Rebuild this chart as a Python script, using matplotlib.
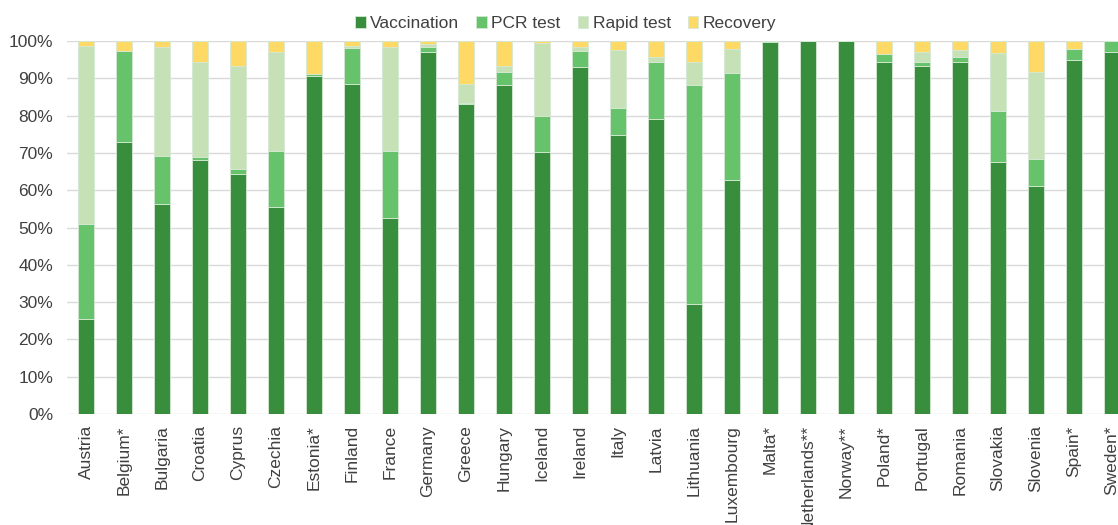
import numpy as np
import matplotlib.pyplot as plt
from matplotlib.ticker import PercentFormatter

plt.rcParams['font.family'] = ['Liberation Sans', 'DejaVu Sans']

countries = ['Austria', 'Belgium*', 'Bulgaria', 'Croatia', 'Cyprus', 'Czechia',
             'Estonia*', 'Finland', 'France', 'Germany', 'Greece', 'Hungary',
             'Iceland', 'Ireland', 'Italy', 'Latvia', 'Lithuania', 'Luxembourg',
             'Malta*', 'Netherlands**', 'Norway**', 'Poland*', 'Portugal',
             'Romania', 'Slovakia', 'Slovenia', 'Spain*', 'Sweden*']

vaccination = [25.6, 73.0, 56.4, 68.2, 64.4, 55.6, 90.6, 88.4, 52.6, 97.1,
               83.2, 88.3, 70.2, 93.1, 74.9, 79.0, 29.5, 62.7, 99.6, 100.0,
               100.0, 94.5, 93.4, 94.5, 67.6, 61.2, 95.0, 97.0]
pcr_test = [25.3, 24.4, 12.9, 0.8, 1.3, 14.9, 0.6, 9.8, 17.9, 1.3,
            0.3, 3.5, 9.8, 4.3, 7.2, 15.3, 58.8, 28.8, 0.4, 0.0,
            0.0, 2.1, 1.1, 1.3, 13.7, 7.1, 2.9, 3.0]
rapid_test = [47.7, 0.0, 29.1, 25.5, 27.6, 26.5, 0.0, 0.4, 28.0, 0.8,
              4.9, 1.5, 19.4, 0.9, 15.6, 1.3, 6.1, 6.3, 0.0, 0.0,
              0.0, 0.0, 2.5, 1.9, 15.5, 23.4, 0.0, 0.0]
recovery = [1.4, 2.6, 1.6, 5.5, 6.7, 3.0, 8.8, 1.4, 1.5, 0.8,
            11.6, 6.7, 0.6, 1.7, 2.3, 4.4, 5.6, 2.2, 0.0, 0.0,
            0.0, 3.4, 3.0, 2.3, 3.2, 8.3, 2.1, 0.0]

series = [('Vaccination', vaccination, '#388E3C'),
          ('PCR test', pcr_test, '#66C36B'),
          ('Rapid test', rapid_test, '#C5E1B5'),
          ('Recovery', recovery, '#FFD966')]

fig = plt.figure(figsize=(11.18, 5.25), dpi=100)
ax = fig.add_axes([0.06, 0.2114, 0.9516, 0.7105])

x = np.arange(len(countries))
bottom = np.zeros(len(countries))
for name, vals, col in series:
    vals = np.array(vals)
    ax.bar(x, vals, width=0.4, bottom=bottom, color=col, label=name,
           edgecolor='#D5E8D4', linewidth=0.6, zorder=3)
    bottom += vals

ax.set_xlim(-0.5, len(countries) - 0.5)
ax.set_ylim(0, 100)
ax.set_yticks(np.arange(0, 101, 10))
ax.yaxis.set_major_formatter(PercentFormatter(decimals=0))
ax.set_xticks(x)
ax.set_xticklabels(countries, rotation=90, va='top', ha='center')
ax.tick_params(axis='both', length=0, labelsize=12.5, colors='#404040')
ax.tick_params(axis='x', pad=8)
ax.tick_params(axis='y', pad=10)
ax.grid(axis='y', color='#D9D9D9', linewidth=1, zorder=0)
for s in ax.spines.values():
    s.set_visible(False)

fig.legend(loc='center', bbox_to_anchor=(0.506, 0.955), ncol=4, frameon=False,
           fontsize=12.5, handlelength=0.6, handleheight=0.6, handletextpad=0.25,
           columnspacing=1.0, labelcolor='#404040')

fig.savefig('out.png', dpi=100)
